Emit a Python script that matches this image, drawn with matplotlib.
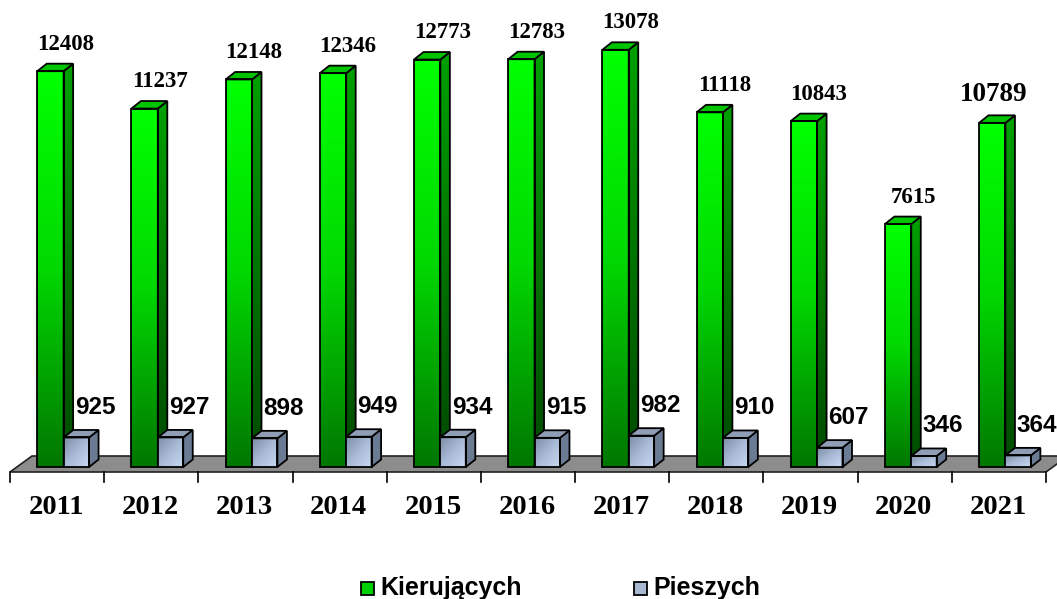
import numpy as np
import matplotlib
matplotlib.use("Agg")
import matplotlib.pyplot as plt
from matplotlib.patches import Polygon, Rectangle
from matplotlib.colors import LinearSegmentedColormap

years = ["2011", "2012", "2013", "2014", "2015", "2016", "2017", "2018", "2019", "2020", "2021"]
kierujacych = [12408, 11237, 12148, 12346, 12773, 12783, 13078, 11118, 10843, 7615, 10789]
pieszych = [925, 927, 898, 949, 934, 915, 982, 910, 607, 346, 364]
legend_labels = ["Kierujących", "Pieszych"]

W, H = 1057, 599
fig = plt.figure(figsize=(W / 100, H / 100), dpi=100)
ax = fig.add_axes([9 / W, 0, 1036 / W, 1])

# pixel -> data helpers
upx = 1 / 0.0319          # value units per pixel (vertical)
cpx = 1 / 94.18           # category units per pixel (horizontal)
base_px = 467
ax.set_xlim(-0.5, 10.5)
ax.set_ylim(-(H - base_px) * upx, base_px * upx)
ax.axis("off")

dx = 9.5 * cpx
dy = 7.5 * upx

green_front = LinearSegmentedColormap.from_list("gf", ["#00ff00", "#00d800", "#007800"])
green_side = LinearSegmentedColormap.from_list("gs", ["#00a000", "#004a00"])
blue_front = LinearSegmentedColormap.from_list("bf", ["#7d8da6", "#a9bbd6", "#c8d9f2"])

vert = np.linspace(0, 1, 64).reshape(-1, 1)
ii, jj = np.mgrid[0:32, 0:32]
diag = (ii + jj) / 62.0


def bar3d(x0, w, h, front_cmap, front_grad, side_cmap, side_color, top_color, z):
    # front face with gradient
    rect = Rectangle((x0, 0), w, h, facecolor="none", edgecolor="black", lw=1.3, zorder=z + 0.3)
    ax.add_patch(rect)
    im = ax.imshow(front_grad, extent=[x0, x0 + w, 0, h], aspect="auto", cmap=front_cmap,
                   zorder=z, interpolation="bilinear")
    im.set_clip_path(rect)
    side = Polygon([(x0 + w, 0), (x0 + w + dx, dy), (x0 + w + dx, h + dy), (x0 + w, h)],
                   closed=True, facecolor=side_color if side_cmap is None else "none",
                   edgecolor="black", lw=1.3, zorder=z + 0.2)
    ax.add_patch(side)
    if side_cmap is not None:
        im2 = ax.imshow(vert, extent=[x0 + w, x0 + w + dx, 0, h + dy], aspect="auto",
                        cmap=side_cmap, zorder=z + 0.1, interpolation="bilinear")
        im2.set_clip_path(side)
    top = Polygon([(x0, h), (x0 + dx, h + dy), (x0 + w + dx, h + dy), (x0 + w, h)],
                  closed=True, facecolor=top_color, edgecolor="black", lw=1.3, zorder=z + 0.2)
    ax.add_patch(top)


# floor
f_front = -5 * upx
f_back = 11 * upx
floor = Polygon([(-0.5 + 1 * cpx, f_front), (-0.5 + 23 * cpx, f_back),
                 (10.5 + 23 * cpx, f_back), (10.5 + 1 * cpx, f_front)],
                closed=True, facecolor="#8c8c8c", edgecolor="#222222", lw=1.2,
                zorder=1, clip_on=False)
ax.add_patch(floor)

# ticks under floor
for k in range(len(years) + 1):
    xt = -0.5 + k + 1 * cpx
    ax.plot([xt, xt], [f_front, f_front - 10 * upx], color="black", lw=1.2, zorder=1,
            clip_on=False)

for i, yr in enumerate(years):
    zg = 10 + i * 2
    bar3d(i - 0.2, 0.28, kierujacych[i], green_front, vert, green_side, None, "#00c400", zg)
    bar3d(i + 0.08, 0.27, pieszych[i], blue_front, diag, None, "#6b7b93", "#8f9db5", zg + 1)

    if yr == "2021":
        ax.text(i - 0.05, kierujacych[i] + 28 * upx, f"{kierujacych[i]}", ha="center",
                va="center", fontsize=19.5, fontweight="bold", family="Liberation Serif",
                zorder=50)
    else:
        ax.text(i + 0.1, kierujacych[i] + 27 * upx, f"{kierujacych[i]}", ha="center",
                va="center", fontsize=16.5, fontweight="bold", family="Liberation Serif",
                zorder=50)
    ax.text(i + 0.415, pieszych[i] + 30 * upx, f"{pieszych[i]}", ha="center", va="center",
            fontsize=17.5, fontweight="bold", family="Liberation Sans", zorder=50)
    ax.text(i, -41 * upx, yr, ha="center", va="center", fontsize=20.5, fontweight="bold",
            family="Liberation Serif", zorder=50)

# legend
def legend_item(xpx, label, color):
    fig.add_artist(Rectangle((xpx / W, 1 - 595 / H), 13 / W, 13 / H, transform=fig.transFigure,
                             facecolor=color, edgecolor="black", lw=1.3))
    fig.text((xpx + 19) / W, 1 - 588 / H, label, ha="left", va="center", fontsize=18,
             fontweight="bold", family="Liberation Sans")

legend_item(361, legend_labels[0], "#00d000")
legend_item(634, legend_labels[1], "#a8b8d0")

fig.savefig("out.png", dpi=100)
